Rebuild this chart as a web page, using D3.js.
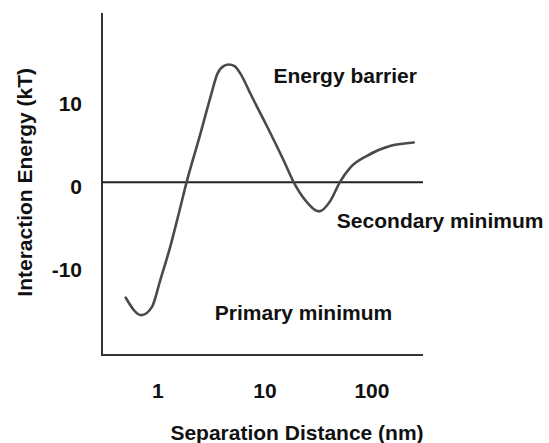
<!DOCTYPE html>
<html>
<head>
<meta charset="utf-8">
<script src="https://cdn.jsdelivr.net/npm/d3@7"></script>
<style>
  html, body { margin: 0; padding: 0; background: #fff; }
  svg { display: block; }
  text { font-family: "Liberation Sans", Arial, Helvetica, sans-serif; font-weight: bold; fill: #111; }
</style>
</head>
<body>
<svg id="chart" width="549" height="443"></svg>
<script>
// ---- data ----
const distance = [0.5, 0.7, 0.88, 1.05, 1.3, 1.57, 1.85, 2.5, 3.1, 3.6, 4.1, 4.6, 5.2, 5.9, 7.3, 10.5, 15, 18.6, 24, 32, 41, 50, 63, 90, 150, 246];
const energy   = [-13.9, -16.0, -15.0, -11.8, -7.8, -3.7, 0, 5.9, 10.3, 13.1, 14.0, 14.2, 14.0, 13.1, 10.7, 6.7, 2.6, 0, -2.2, -3.5, -2.2, 0, 1.8, 3.2, 4.4, 4.8];
const xTicks = [1, 10, 100];
const xTickLabels = ["1", "10", "100"];
const yTicks = [10, 0, -10];
const yTickLabels = ["10", "0", "-10"];
const annotations = [
  { text: "Energy barrier", x: 12, y: 12.0 },
  { text: "Secondary minimum", x: 47, y: -5.5 },
  { text: "Primary minimum", x: 3.4, y: -16.6 }
];
const xTitle = "Separation Distance (nm)";
const yTitle = "Interaction Energy (kT)";

// ---- layout ----
const svg = d3.select("#chart");
const x = d3.scaleLog().domain([0.3, 300]).range([102, 423]);
const y = d3.scaleLinear().domain([-20.8, 20.4]).range([355, 13]);

// axes lines
const axisColor = "#333";
svg.append("line").attr("x1", x.range()[0]).attr("x2", x.range()[0])
  .attr("y1", y.range()[1]).attr("y2", y.range()[0])
  .attr("stroke", axisColor).attr("stroke-width", 2);
svg.append("line").attr("x1", x.range()[0] - 1).attr("x2", x.range()[1])
  .attr("y1", y.range()[0]).attr("y2", y.range()[0])
  .attr("stroke", axisColor).attr("stroke-width", 2);
// zero line
svg.append("line").attr("x1", x.range()[0]).attr("x2", x.range()[1])
  .attr("y1", y(0)).attr("y2", y(0))
  .attr("stroke", "#222").attr("stroke-width", 2);

// curve
const pts = distance.map((d, i) => [d, energy[i]]);
const line = d3.line().x(d => x(d[0])).y(d => y(d[1])).curve(d3.curveMonotoneX);
svg.append("path").datum(pts).attr("d", line)
  .attr("fill", "none").attr("stroke", "#4a4a4a").attr("stroke-width", 2.6)
  .attr("stroke-linecap", "round").attr("stroke-linejoin", "round");

// tick labels
const fs = 21;
svg.selectAll(".xt").data(xTicks).enter().append("text")
  .attr("x", d => x(d)).attr("y", 398)
  .attr("text-anchor", "middle").attr("font-size", fs)
  .text((d, i) => xTickLabels[i]);
svg.selectAll(".yt").data(yTicks).enter().append("text")
  .attr("x", 82).attr("y", d => y(d)).attr("dy", 12)
  .attr("text-anchor", "end").attr("font-size", fs)
  .text((d, i) => yTickLabels[i]);

// annotations
svg.selectAll(".ann").data(annotations).enter().append("text")
  .attr("x", d => x(d.x)).attr("y", d => y(d.y))
  .attr("font-size", fs)
  .text(d => d.text);

// axis titles
svg.append("text").attr("x", 297).attr("y", 440)
  .attr("text-anchor", "middle").attr("font-size", fs).text(xTitle);
svg.append("text").attr("transform", "translate(32," + y(0) + ") rotate(-90)")
  .attr("text-anchor", "middle").attr("font-size", fs).text(yTitle);
</script>
</body>
</html>
